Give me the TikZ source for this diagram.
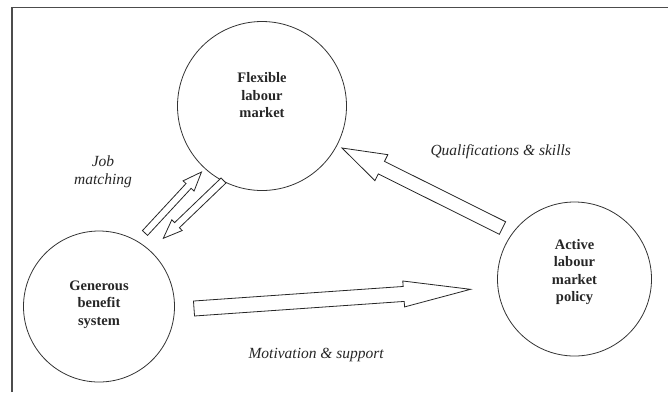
\documentclass[tikz,border=0pt]{standalone}
\usepackage{fontspec}
\setmainfont{Liberation Serif}
\usepackage{xcolor}
\usepackage{tikz}
\usetikzlibrary{calc,positioning}

% hollow block arrow: tail, tip, shaft half width, head half width, head length
\newcommand{\hollowarrow}[5]{%
  \path ($(#2)!#5!(#1)$) coordinate (hb);
  \draw[arrowline] ($(#1)!#3!90:(#2)$) -- ($(hb)!#3!90:(#2)$) -- ($(hb)!#4!90:(#2)$)
    -- (#2) -- ($(hb)!#4!-90:(#2)$) -- ($(hb)!#3!-90:(#2)$) -- ($(#1)!#3!-90:(#2)$) -- cycle;
}

\begin{document}
\begin{tikzpicture}[x=1pt,y=-1pt,
    bubble/.style={circle,draw=black!80,line width=0.8pt,inner sep=0pt},
    bubbletext/.style={align=center,font=\fontsize{14.5}{17.5}\selectfont\bfseries,text=black!85},
    linktext/.style={align=center,font=\fontsize{15.5}{18.5}\selectfont\itshape,text=black!85},
    arrowline/.style={draw=black!85,line width=0.8pt,fill=white,line join=miter}]
    \useasboundingbox (0,0) rectangle (668,392);
    % Frame (top and left edge only)
    \draw[gray!60!black,line width=1.3pt] (12,392) -- (12,7.5) -- (668,7.5);
    % The three circles
    \node[bubble,minimum size=169pt,
      label={[bubbletext,yshift=10.5pt]center:Flexible\\labour\\market}] (flex) at (262,106) {};
    \node[bubble,minimum size=151pt,
      label={[bubbletext,yshift=2pt]center:Generous\\benefit\\system}] (gen) at (99,306.5) {};
    \node[bubble,minimum size=154pt,
      label={[bubbletext,yshift=7pt]center:Active\\labour\\market\\policy}] (act) at (574.5,279) {};
    % Arrow ends
    \coordinate (mot-s) at ([shift={(95,2)}]gen.center);
    \coordinate (mot-e) at ([shift={(-104,10.3)}]act.center);
    \coordinate (qual-s) at ([shift={(-72,-51)}]act.center);
    \coordinate (qual-e) at ([shift={(80,42)}]flex.center);
    \coordinate (jobup-s) at ([shift={(46,-73.5)}]gen.center);
    \coordinate (jobup-e) at ([shift={(-60.5,66)}]flex.center);
    \coordinate (jobdn-s) at ([shift={(-38.5,74.5)}]flex.center);
    \coordinate (jobdn-e) at ([shift={(64.3,-68.2)}]gen.center);
    % Arrows
    \hollowarrow{mot-s}{mot-e}{7.5pt}{13pt}{67pt}
    \hollowarrow{qual-s}{qual-e}{7pt}{14.5pt}{44pt}
    \hollowarrow{jobup-s}{jobup-e}{3.5pt}{7.5pt}{19pt}
    \hollowarrow{jobdn-s}{jobdn-e}{3.5pt}{7.5pt}{19pt}
    % Labels on the arrows
    \node[linktext] (jobtxt) at (103,172) {Job\\matching};
    \node[linktext,anchor=base west] (qualtxt) at (427,155) {Qualifications \& skills};
    \node[linktext,anchor=base west] (mottxt) at (245,358) {Motivation \& support};
\end{tikzpicture}
\end{document}
